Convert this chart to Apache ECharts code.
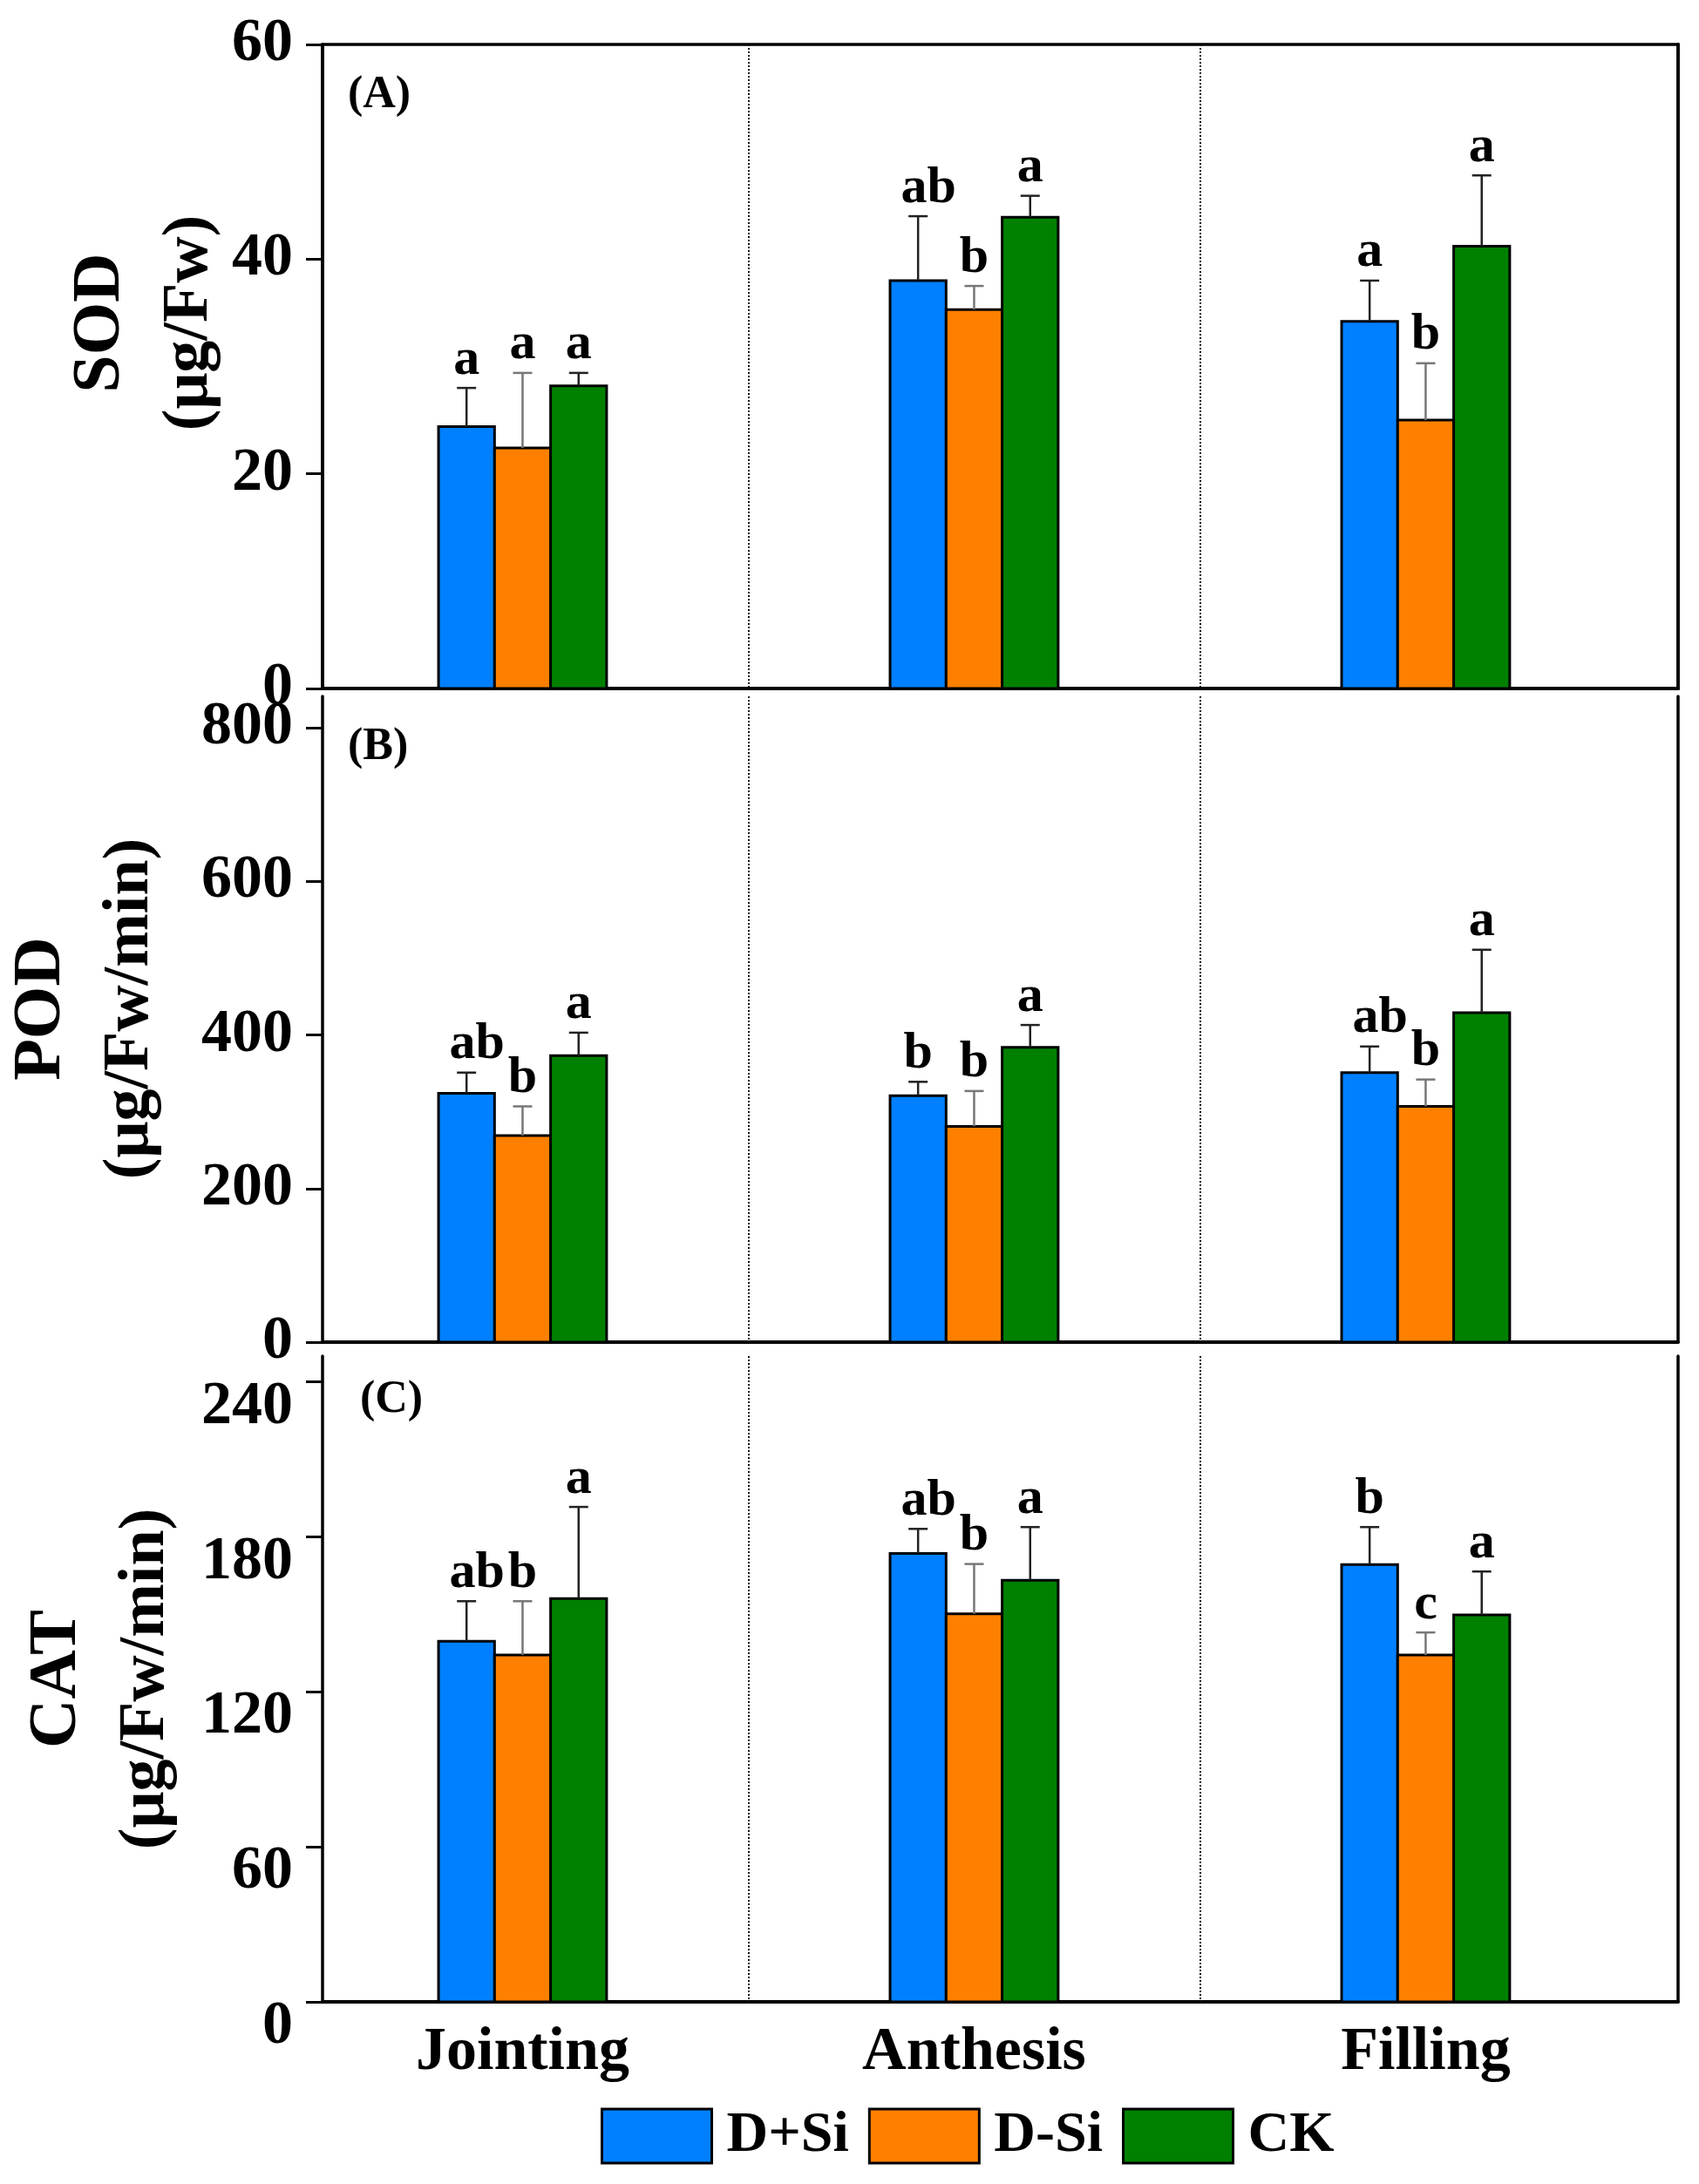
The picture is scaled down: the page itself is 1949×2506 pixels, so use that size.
<!DOCTYPE html>
<html>
<head>
<meta charset="utf-8">
<script src="https://cdn.jsdelivr.net/npm/echarts@6/dist/echarts.min.js"></script>
<style>
html, body { margin: 0; padding: 0; background: #fff; }
#main { width: 1949px; height: 2506px; }
</style>
</head>
<body>
<div id="main"></div>
<script>
var categories = ['Jointing', 'Anthesis', 'Filling'];
var treatments = ['D+Si', 'D-Si', 'CK'];
var colors = ['#0080ff', '#ff8000', '#008000'];
var errColors = ['#222', '#777', '#222'];

// (A) SOD
var sodPlus = [24.4, 38.0, 34.2];
var sodPlusErr = [3.6, 6.0, 3.8];
var sodPlusSig = ['a', 'ab', 'a'];
var sodMinus = [22.4, 35.3, 25.0];
var sodMinusErr = [7.0, 2.2, 5.3];
var sodMinusSig = ['a', 'b', 'b'];
var sodCK = [28.2, 43.9, 41.2];
var sodCKErr = [1.2, 2.0, 6.6];
var sodCKSig = ['a', 'a', 'a'];
var sodTicks = [0, 20, 40, 60];

// (B) POD
var podPlus = [324, 321, 351];
var podPlusErr = [27, 18, 34];
var podPlusSig = ['ab', 'b', 'ab'];
var podMinus = [269, 281, 307];
var podMinusErr = [38, 46, 35];
var podMinusSig = ['b', 'b', 'b'];
var podCK = [373, 384, 429];
var podCKErr = [30, 29, 82];
var podCKSig = ['a', 'a', 'a'];
var podTicks = [0, 200, 400, 600, 800];

// (C) CAT
var catPlus = [139.6, 173.6, 169.3];
var catPlusErr = [15.5, 9.5, 14.5];
var catPlusSig = ['ab', 'ab', 'b'];
var catMinus = [134.3, 150.2, 134.3];
var catMinusErr = [20.8, 19.3, 8.7];
var catMinusSig = ['b', 'b', 'c'];
var catCK = [156.1, 163.2, 149.8];
var catCKErr = [35.5, 20.6, 16.8];
var catCKSig = ['a', 'a', 'a'];
var catTicks = [0, 60, 120, 180, 240];

var FONT = '"Liberation Serif", "Times New Roman", serif';
var BAR_W = 0.1241;

var panels = [
    {
        title: 'SOD', unit: '(μg/Fw)', tag: '(A)', max: 60, ticks: sodTicks,
        mean: [sodPlus, sodMinus, sodCK], err: [sodPlusErr, sodMinusErr, sodCKErr],
        sig: [sodPlusSig, sodMinusSig, sodCKSig],
        top: 51, height: 739, nameGap: 100, namePad: 100, lowLabels: false
    },
    {
        title: 'POD', unit: '(μg/Fw/min)', tag: '(B)', max: 841, ticks: podTicks,
        mean: [podPlus, podMinus, podCK], err: [podPlusErr, podMinusErr, podCKErr],
        sig: [podPlusSig, podMinusSig, podCKSig],
        top: 799, height: 741, nameGap: 169, namePad: 24, lowLabels: false
    },
    {
        title: 'CAT', unit: '(μg/Fw/min)', tag: '(C)', max: 250, ticks: catTicks,
        mean: [catPlus, catMinus, catCK], err: [catPlusErr, catMinusErr, catCKErr],
        sig: [catPlusSig, catMinusSig, catCKSig],
        top: 1556, height: 741, nameGap: 151, namePad: 0, lowLabels: true
    }
];

/**
 * 柱子 + 误差线 + 显著性字母
 */
function barRenderer(s, sig) {
    var off = (s - 1) * BAR_W;
    return function (params, api) {
        var x = api.value(0) + off;
        var v = api.value(1);
        var e = api.value(2);
        var p0 = api.coord([x - BAR_W / 2, 0]);
        var p1 = api.coord([x + BAR_W / 2, v]);
        var pm = api.coord([x, v]);
        var pc = api.coord([x, v + e]);
        var letter = sig[params.dataIndex];
        // 两个字母的标注在原图里略微右移
        var dx = letter.length > 1 ? 12 : 0;
        return {
            type: 'group',
            children: [
                {
                    type: 'rect',
                    shape: {x: p0[0], y: p1[1], width: p1[0] - p0[0], height: p0[1] - p1[1]},
                    style: {fill: colors[s], stroke: '#000', lineWidth: 3}
                },
                {
                    type: 'line',
                    shape: {x1: pm[0], y1: pm[1], x2: pc[0], y2: pc[1]},
                    style: {stroke: errColors[s], lineWidth: 2.5}
                },
                {
                    type: 'line',
                    shape: {x1: pc[0] - 11, y1: pc[1], x2: pc[0] + 11, y2: pc[1]},
                    style: {stroke: errColors[s], lineWidth: 2.5}
                },
                {
                    type: 'text',
                    style: {
                        text: letter, x: pc[0] + dx, y: pc[1] - 2,
                        align: 'center', verticalAlign: 'bottom',
                        font: 'bold 60px ' + FONT, fill: '#000'
                    }
                }
            ]
        };
    };
}

var grids = [], xAxes = [], yAxes = [], series = [], graphics = [];
var tagPos = [[399, 84], [399, 832], [413, 1581]];

panels.forEach(function (p, i) {
    grids.push({
        left: 370, right: 24, top: p.top, height: p.height,
        show: i === 0, borderColor: '#000', borderWidth: 3.5
    });

    xAxes.push({
        type: 'value', gridIndex: i, min: -0.443, max: 2.559,
        axisLine: {show: true, onZero: false, lineStyle: {color: '#000', width: 4}},
        axisTick: {show: false, customValues: [0.5, 1.5]},
        splitLine: {show: true, lineStyle: {type: 'dotted', color: '#111', width: 2}},
        axisLabel: i === 2 ? {
            show: true, customValues: [0, 1, 2],
            formatter: function (v) { return categories[Math.round(v)]; },
            fontSize: 70, fontWeight: 'bold', fontFamily: FONT, color: '#000', margin: 24
        } : {show: false}
    });

    var yLabel = {
        customValues: p.ticks, fontSize: 70, fontWeight: 'bold', fontFamily: FONT,
        color: '#000', margin: 34
    };
    if (p.lowLabels) {
        // (C) 的刻度数字在原图里整体偏下
        yLabel.verticalAlign = 'top';
        yLabel.lineHeight = 58;
    }

    yAxes.push({
        type: 'value', gridIndex: i, position: 'left', min: 0, max: p.max,
        axisLine: {show: true, onZero: false, lineStyle: {color: '#000', width: 3.5}},
        axisTick: {show: true, length: 19, customValues: p.ticks, lineStyle: {color: '#000', width: 3}},
        axisLabel: yLabel,
        splitLine: {show: false},
        name: '{t|' + p.title + '}\n{u|' + p.unit + '}',
        nameLocation: 'middle', nameRotate: 90, nameGap: p.nameGap,
        nameTextStyle: {
            padding: [0, 0, 0, p.namePad],
            rich: {
                t: {fontSize: 78, fontWeight: 'bold', fontFamily: FONT, color: '#000', lineHeight: 102},
                u: {fontSize: 74, fontWeight: 'bold', fontFamily: FONT, color: '#000', lineHeight: 102}
            }
        }
    });

    yAxes.push({
        type: 'value', gridIndex: i, position: 'right', min: 0, max: p.max,
        axisLine: {show: true, onZero: false, lineStyle: {color: '#000', width: 3.5}},
        axisTick: {show: false},
        axisLabel: {show: false},
        splitLine: {show: false}
    });

    for (var s = 0; s < 3; s++) {
        var data = [];
        for (var c = 0; c < categories.length; c++) {
            data.push([c, p.mean[s][c], p.err[s][c]]);
        }
        series.push({
            name: treatments[s],
            type: 'custom',
            xAxisIndex: i,
            yAxisIndex: i * 2,
            itemStyle: {color: colors[s]},
            renderItem: barRenderer(s, p.sig[s]),
            encode: {x: 0, y: [1, 2]},
            data: data
        });
    }

    graphics.push({
        type: 'text', left: tagPos[i][0], top: tagPos[i][1],
        style: {text: p.tag, font: 'bold 52px ' + FONT, fill: '#000'}
    });
});

var chart = echarts.init(document.getElementById('main'));
chart.setOption({
    backgroundColor: '#fff',
    animation: false,
    legend: {
        data: treatments,
        left: 689, top: 2418, padding: 0,
        itemWidth: 126, itemHeight: 62, itemGap: 22,
        icon: 'rect', selectedMode: false,
        itemStyle: {borderColor: '#000', borderWidth: 3},
        textStyle: {
            fontSize: 66, fontWeight: 'bold', fontFamily: FONT, color: '#000',
            padding: [0, 0, 0, 12]
        }
    },
    grid: grids,
    xAxis: xAxes,
    yAxis: yAxes,
    series: series,
    graphic: graphics
});

window.onresize = function () {
    chart.resize();
};
</script>
</body>
</html>
